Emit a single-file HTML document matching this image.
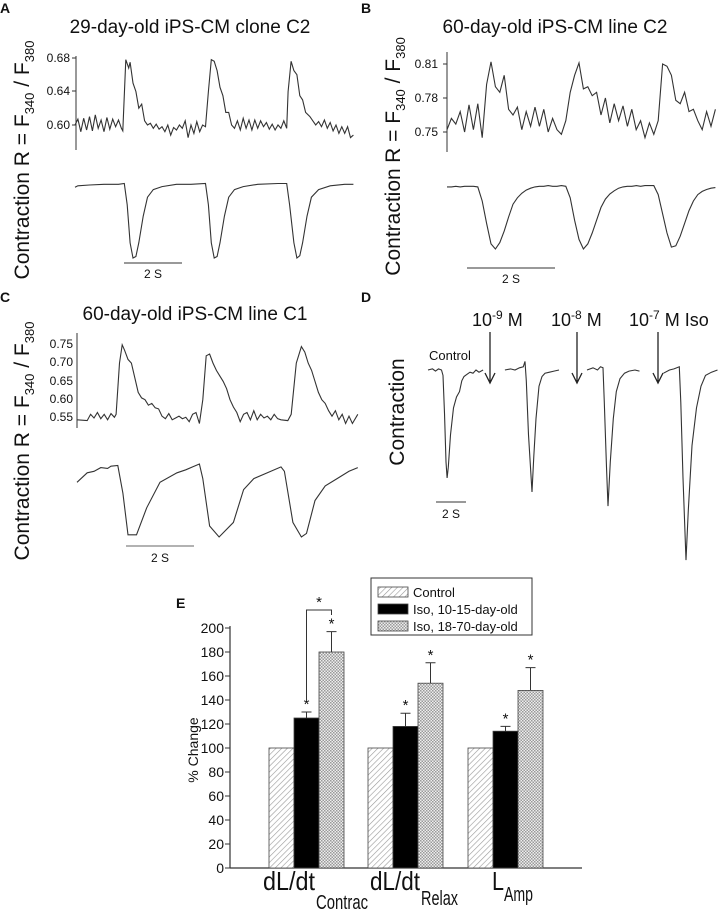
<!DOCTYPE html>
<html><head><meta charset="utf-8"><style>
html,body{margin:0;padding:0;background:#fff;}
svg{display:block;font-family:"Liberation Sans",sans-serif;}
</style></head><body>
<svg id="fig" width="720" height="919" viewBox="0 0 720 919" xmlns="http://www.w3.org/2000/svg">
<defs>
<pattern id="hatch" width="4" height="4" patternUnits="userSpaceOnUse" patternTransform="rotate(45)"><rect width="4" height="4" fill="#fff"/><line x1="0" y1="0" x2="0" y2="4" stroke="#999" stroke-width="1.2"/></pattern>
<pattern id="check" width="3" height="3" patternUnits="userSpaceOnUse"><rect width="3" height="3" fill="#eee"/><rect width="1.5" height="1.5" fill="#999"/><rect x="1.5" y="1.5" width="1.5" height="1.5" fill="#999"/></pattern>
</defs>
<g id="traces" fill="none" stroke="#333" stroke-width="1.1"></g>
<g id="static" fill="#111">
<text x="0" y="13" font-size="14" font-weight="bold">A</text>
<text x="190" y="33" font-size="19" text-anchor="middle">29-day-old iPS-CM clone C2</text>
<text transform="translate(29,160) rotate(-90)" font-size="21" text-anchor="middle">Contraction R = F<tspan font-size="13" dy="5">340</tspan><tspan dy="-5"> / F</tspan><tspan font-size="13" dy="5">380</tspan></text>
<line x1="76" y1="56" x2="76" y2="150" stroke="#333" stroke-width="1"/>
<line x1="72" y1="58" x2="76" y2="58" stroke="#333"/><line x1="72" y1="91" x2="76" y2="91" stroke="#333"/><line x1="72" y1="125" x2="76" y2="125" stroke="#333"/>
<text x="70" y="62" font-size="12" text-anchor="end">0.68</text>
<text x="70" y="95" font-size="12" text-anchor="end">0.64</text>
<text x="70" y="129" font-size="12" text-anchor="end">0.60</text>
<line x1="124" y1="263" x2="182" y2="263" stroke="#333"/>
<text x="153" y="278" font-size="12" text-anchor="middle">2 S</text>
<text x="361" y="13" font-size="14" font-weight="bold">B</text>
<text x="555" y="33" font-size="19" text-anchor="middle">60-day-old iPS-CM line C2</text>
<text transform="translate(400,100) rotate(-90)" font-size="21" text-anchor="middle">R = F<tspan font-size="13" dy="5">340</tspan><tspan dy="-5"> / F</tspan><tspan font-size="13" dy="5">380</tspan></text>
<text transform="translate(400,222) rotate(-90)" font-size="21" text-anchor="middle">Contraction</text>
<line x1="447" y1="52" x2="447" y2="152" stroke="#333"/>
<line x1="443" y1="64" x2="447" y2="64" stroke="#333"/><line x1="443" y1="98" x2="447" y2="98" stroke="#333"/><line x1="443" y1="132" x2="447" y2="132" stroke="#333"/>
<text x="438" y="68" font-size="12" text-anchor="end">0.81</text>
<text x="438" y="102" font-size="12" text-anchor="end">0.78</text>
<text x="438" y="136" font-size="12" text-anchor="end">0.75</text>
<line x1="467" y1="268" x2="555" y2="268" stroke="#333"/>
<text x="511" y="283" font-size="12" text-anchor="middle">2 S</text>
<text x="0" y="302" font-size="14" font-weight="bold">C</text>
<text x="195" y="320" font-size="19" text-anchor="middle">60-day-old iPS-CM line C1</text>
<text transform="translate(29,441) rotate(-90)" font-size="21" text-anchor="middle">Contraction R = F<tspan font-size="13" dy="5">340</tspan><tspan dy="-5"> / F</tspan><tspan font-size="13" dy="5">380</tspan></text>
<line x1="77" y1="333" x2="77" y2="428" stroke="#333"/>
<g font-size="12" text-anchor="end">
<text x="73" y="348">0.75</text>
<text x="73" y="366">0.70</text>
<text x="73" y="385">0.65</text>
<text x="73" y="403">0.60</text>
<text x="73" y="421">0.55</text>
</g>
<line x1="126" y1="546" x2="194" y2="546" stroke="#666"/>
<text x="160" y="562" font-size="12" text-anchor="middle">2 S</text>
<text x="361" y="302" font-size="14" font-weight="bold">D</text>
<text transform="translate(404,412) rotate(-90)" font-size="21" text-anchor="middle">Contraction</text>
<text x="429" y="360" font-size="13">Control</text>
<text x="472" y="326" font-size="18">10<tspan font-size="12" dy="-7">-9</tspan><tspan dy="7"> M</tspan></text>
<text x="551" y="326" font-size="18">10<tspan font-size="12" dy="-7">-8</tspan><tspan dy="7"> M</tspan></text>
<text x="629" y="326" font-size="18">10<tspan font-size="12" dy="-7">-7</tspan><tspan dy="7"> M Iso</tspan></text>
<g stroke="#222" stroke-width="1.3" fill="none">
<path d="M490 332V383M485 373L490 383L495 373"/>
<path d="M577 332V383M572 373L577 383L582 373"/>
<path d="M658 332V383M653 373L658 383L663 373"/>
</g>
<line x1="436" y1="502" x2="466" y2="502" stroke="#333"/>
<text x="451" y="518" font-size="12" text-anchor="middle">2 S</text>
<text x="176" y="608" font-size="14" font-weight="bold">E</text>
<text transform="translate(198,750) rotate(-90)" font-size="14" text-anchor="middle">% Change</text>
</g>
<g id="chartE"></g>
</svg>
<script>
const aCalcium=[[0,.600],[.1,.607],[.2,.592],[.3,.608],[.4,.594],[.5,.610],[.6,.593],[.7,.612],[.8,.596],[.9,.606],[1.0,.592],[1.1,.609],[1.2,.595],[1.3,.607],[1.4,.598],[1.5,.606],[1.6,.596],[1.65,.593],[1.75,.678],[1.85,.668],[1.9,.675],[2.0,.650],[2.1,.640],[2.2,.620],[2.3,.625],[2.4,.605],[2.5,.600],[2.6,.602],[2.7,.596],[2.8,.601],[2.9,.595],[3.0,.598],[3.1,.592],[3.2,.600],[3.3,.588],[3.4,.597],[3.5,.594],[3.6,.600],[3.7,.596],[3.8,.605],[3.9,.585],[4.0,.600],[4.1,.590],[4.2,.604],[4.3,.592],[4.4,.600],[4.5,.598],[4.6,.640],[4.7,.678],[4.8,.676],[4.9,.665],[5.0,.645],[5.1,.635],[5.2,.615],[5.3,.615],[5.4,.600],[5.5,.596],[5.6,.605],[5.7,.594],[5.8,.608],[5.9,.596],[6.0,.606],[6.1,.594],[6.2,.606],[6.3,.596],[6.4,.605],[6.5,.598],[6.6,.603],[6.7,.595],[6.8,.601],[6.9,.594],[7.0,.600],[7.1,.596],[7.2,.605],[7.3,.596],[7.35,.640],[7.45,.676],[7.55,.665],[7.65,.660],[7.75,.635],[7.85,.630],[7.95,.615],[8.1,.610],[8.2,.605],[8.3,.600],[8.4,.604],[8.5,.598],[8.6,.606],[8.7,.596],[8.8,.603],[8.9,.593],[9.0,.600],[9.1,.590],[9.2,.598],[9.3,.590],[9.4,.598],[9.5,.585],[9.6,.588]];
const aContraction=[[0,-.07],[.1,-.05],[.5,-.04],[1.0,-.03],[1.5,-.03],[1.7,-.02],[1.8,-.3],[1.9,-.8],[2.0,-1.0],[2.1,-.98],[2.2,-.8],[2.35,-.45],[2.5,-.2],[2.7,-.1],[3.0,-.06],[3.5,-.03],[4.0,-.03],[4.5,-.02],[4.6,-.3],[4.7,-.8],[4.8,-1.0],[4.9,-.98],[5.0,-.8],[5.15,-.45],[5.3,-.2],[5.5,-.1],[5.8,-.06],[6.3,-.03],[7.0,-.02],[7.3,-.02],[7.4,-.3],[7.55,-.8],[7.65,-1.0],[7.75,-.97],[7.85,-.8],[8.0,-.45],[8.15,-.2],[8.4,-.1],[8.8,-.05],[9.3,-.03],[9.6,-.03]];
const bCalcium=[.752,.762,.757,.768,.750,.774,.752,.775,.745,.792,.812,.790,.785,.800,.770,.765,.772,.752,.768,.755,.772,.755,.770,.750,.762,.752,.748,.760,.785,.800,.811,.788,.790,.782,.785,.765,.780,.758,.775,.760,.773,.755,.770,.752,.760,.745,.758,.748,.760,.810,.808,.800,.778,.775,.785,.768,.770,.760,.752,.768,.755,.770];
const bContraction=[-.03,-.03,-.02,-.03,-.02,-.02,-.02,-.03,-.25,-.6,-.92,-1.0,-.9,-.72,-.5,-.3,-.2,-.13,-.08,-.05,-.03,-.02,-.02,-.01,-.02,-.02,-.01,-.02,-.2,-.55,-.85,-1.0,-.92,-.75,-.55,-.35,-.22,-.14,-.09,-.05,-.03,-.02,-.02,-.01,-.02,-.01,-.01,-.01,-.15,-.45,-.75,-.97,-.95,-.8,-.6,-.4,-.25,-.15,-.1,-.07,-.05,-.04];
const cCalcium=[[0,.545],[.3,.543],[.4,.560],[.5,.550],[.6,.565],[.7,.548],[.8,.560],[.9,.545],[1.0,.562],[1.1,.552],[1.15,.560],[1.25,.700],[1.33,.750],[1.4,.735],[1.5,.710],[1.6,.700],[1.7,.660],[1.8,.620],[1.9,.605],[2.0,.600],[2.1,.585],[2.2,.590],[2.3,.578],[2.4,.575],[2.5,.555],[2.6,.548],[2.7,.562],[2.8,.545],[2.9,.550],[3.0,.555],[3.1,.548],[3.2,.552],[3.3,.540],[3.4,.560],[3.5,.565],[3.6,.535],[3.7,.600],[3.8,.720],[3.9,.725],[4.0,.700],[4.1,.680],[4.2,.665],[4.3,.650],[4.4,.630],[4.5,.600],[4.6,.580],[4.7,.565],[4.8,.540],[4.9,.560],[5.0,.565],[5.1,.545],[5.2,.570],[5.3,.545],[5.4,.560],[5.5,.550],[5.6,.555],[5.7,.545],[5.8,.560],[5.9,.548],[6.0,.545],[6.2,.543],[6.3,.560],[6.45,.700],[6.6,.745],[6.7,.730],[6.8,.700],[6.9,.680],[7.0,.650],[7.1,.620],[7.2,.600],[7.3,.590],[7.4,.570],[7.5,.555],[7.6,.570],[7.7,.545],[7.8,.560],[7.9,.535],[8.0,.555],[8.1,.535],[8.26,.560]];
const cContraction=[[0,-.25],[.3,-.12],[.5,-.1],[.7,-.05],[.9,-.06],[1.0,-.03],[1.2,-.02],[1.35,-.4],[1.5,-.97],[1.75,-.97],[2.05,-.6],[2.44,-.25],[2.94,-.12],[3.2,-.08],[3.4,-.04],[3.6,0],[3.7,-.2],[3.9,-.85],[4.18,-1.0],[4.6,-.8],[4.9,-.35],[5.2,-.2],[5.6,-.12],[6.0,-.04],[6.1,-.1],[6.35,-.8],[6.6,-1.0],[6.75,-.95],[7.0,-.5],[7.3,-.3],[7.65,-.2],[8.0,-.1],[8.26,-.05]];
const dControl=[[0,0],[0.3,.01],[0.5,-.01],[0.7,.01],[0.9,0],[1.0,-.05],[1.1,-.4],[1.2,-.85],[1.27,-1.0],[1.35,-.9],[1.5,-.6],[1.7,-.35],[1.9,-.25],[2.1,-.2],[2.25,-.1],[2.4,-.06],[2.6,-.04],[2.8,-.02],[3.0,-.03],[3.2,0],[3.4,-.02],[3.67,0]];
const dIso9=[[5.13,0],[5.5,.01],[5.8,0],[6.1,.02],[6.35,.03],[6.47,.08],[6.55,-.1],[6.7,-.6],[6.93,-1.13],[7.05,-.8],[7.2,-.45],[7.4,-.15],[7.6,-.06],[7.8,-.03],[8.1,-.02],[8.4,-.01],[8.73,0]];
const dIso8=[[10.6,0],[11.0,.02],[11.3,0],[11.5,.03],[11.67,.02],[11.75,-.3],[11.9,-.9],[12.0,-1.26],[12.15,-.85],[12.35,-.45],[12.55,-.2],[12.8,-.08],[13.1,-.03],[13.4,-.01],[13.8,0],[14.1,-.01]];
const dIso7=[[15.7,-.03],[16.1,0],[16.4,.01],[16.75,.03],[16.85,-.3],[17.0,-1.0],[17.2,-1.76],[17.35,-1.3],[17.6,-.7],[17.9,-.35],[18.2,-.15],[18.5,-.05],[18.9,-.02],[19.3,0]];

const categories=["Contrac","Relax","Amp"];
const seriesNames=["Control","Iso, 10-15-day-old","Iso, 18-70-day-old"];
const controlValues=[100,100,100];
const iso1015Values=[125,118,114];
const iso1015Errors=[5,11,4];
const iso1870Values=[180,154,148];
const iso1870Errors=[17,17,19];
const yTicks=[0,20,40,60,80,100,120,140,160,180,200];

const NS="http://www.w3.org/2000/svg";
function mk(tag,attrs,parent){const e=document.createElementNS(NS,tag);for(const k in attrs)e.setAttribute(k,attrs[k]);parent.appendChild(e);return e;}
const tg=document.getElementById('traces');
function drawTrace(points,sx,sy,name){
  const d=points.map((p,i)=>(i?'L':'M')+sx(p[0]).toFixed(1)+' '+sy(p[1]).toFixed(1)).join('');
  const p=mk('path',{d:d},tg);
  
  
}
function uni(vals,step){return vals.map((v,i)=>[i*step,v]);}
drawTrace(aCalcium,t=>75+t*29,v=>125-(v-0.60)*837.5,'a-calcium-trace');
drawTrace(aContraction,t=>75+t*29,v=>182-v*76,'a-contraction-trace');
drawTrace(uni(bCalcium,0.1),t=>447+t*44,v=>132-(v-0.75)*1133,'b-calcium-trace');
drawTrace(uni(bContraction,0.1),t=>447+t*44,v=>185-v*64,'b-contraction-trace');
drawTrace(cCalcium,t=>77+t*34,v=>418-(v-0.55)*366,'c-calcium-trace');
drawTrace(cContraction,t=>77+t*34,v=>464-v*73,'c-contraction-trace');
const dx=t=>428+t*15, dy=v=>370-v*108;
drawTrace(dControl,dx,dy,'d-control-trace');
drawTrace(dIso9,dx,dy,'d-iso-1e-9-trace');
drawTrace(dIso8,dx,dy,'d-iso-1e-8-trace');
drawTrace(dIso7,dx,dy,'d-iso-1e-7-trace');

const ch=document.getElementById('chartE');
const y0=868, yScale=v=>y0-v*1.2;
const groupX=[269,368,468], barW=25;
mk('line',{x1:230,y1:626,x2:230,y2:y0,stroke:'#333','stroke-width':1.2},ch);
mk('line',{x1:230,y1:y0,x2:582,y2:y0,stroke:'#333','stroke-width':1.2},ch);
yTicks.forEach(v=>{
  const l=mk('line',{x1:225,y1:yScale(v),x2:230,y2:yScale(v),stroke:'#333'},ch);
  
  
  const t=mk('text',{x:224,y:yScale(v)+5,'font-size':14,'text-anchor':'end',fill:'#111'},ch);
  t.textContent=v;
  
  
});
const fills=['url(#hatch)','#000','url(#check)'];
function bar(x,v,fill,name){
  const r=mk('rect',{x:x,y:yScale(v),width:barW,height:y0-yScale(v),fill:fill,stroke:'#444','stroke-width':0.8},ch);
  
  
}
function err(x,v,e){
  const cx=x+barW/2;
  const p=mk('path',{d:`M${cx} ${yScale(v)}V${yScale(v+e)}M${cx-5} ${yScale(v+e)}H${cx+5}`,stroke:'#333','stroke-width':1,fill:'none'},ch);
  
  
  const s=mk('text',{x:cx,y:yScale(v+e)-3,'font-size':15,'text-anchor':'middle',fill:'#111'},ch);
  s.textContent='*';
  
  
}
const labelMain=[["dL/dt",263,52],["dL/dt",370,50],["L",492,12]];
const labelSub=[[316,52,909],[421,37,905],[504,29,901]];
categories.forEach((c,i)=>{
  const gx=groupX[i];
  bar(gx,controlValues[i],fills[0],'bar-control-'+c.toLowerCase());
  bar(gx+barW,iso1015Values[i],fills[1],'bar-iso-10-15-'+c.toLowerCase());
  bar(gx+2*barW,iso1870Values[i],fills[2],'bar-iso-18-70-'+c.toLowerCase());
  err(gx+barW,iso1015Values[i],iso1015Errors[i]);
  err(gx+2*barW,iso1870Values[i],iso1870Errors[i]);
  const m=labelMain[i];
  const t=mk('text',{x:m[1],y:890,'font-size':26,fill:'#111',textLength:m[2],lengthAdjust:'spacingAndGlyphs'},ch);
  t.textContent=m[0];
  
  
  const s=labelSub[i];
  const st=mk('text',{x:s[0],y:s[2],'font-size':20,fill:'#111',textLength:s[1],lengthAdjust:'spacingAndGlyphs'},ch);
  st.textContent=c;
  
  
});
const b1=groupX[0]+barW*1.5, b2=groupX[0]+barW*2.5;
const br=mk('path',{d:`M${b1} ${yScale(iso1015Values[0]+iso1015Errors[0]+10)}V610H${b2}V615`,stroke:'#333',fill:'none','stroke-width':1},ch);


const bs=mk('text',{x:(b1+b2)/2,y:607,'font-size':15,'text-anchor':'middle',fill:'#111'},ch);
bs.textContent='*';


const lg=mk('g',{},ch);


mk('rect',{x:371,y:578,width:161,height:57,fill:'#fff',stroke:'#333','stroke-width':1},lg);
seriesNames.forEach((n,i)=>{
  const yy=587+i*17;
  const sw=mk('rect',{x:378,y:yy,width:30,height:10,fill:fills[i],stroke:'#444','stroke-width':0.8},lg);
  
  
  const t=mk('text',{x:413,y:yy+10,'font-size':13,fill:'#111'},lg);
  t.textContent=n;
  
  
});
</script>
</body></html>
